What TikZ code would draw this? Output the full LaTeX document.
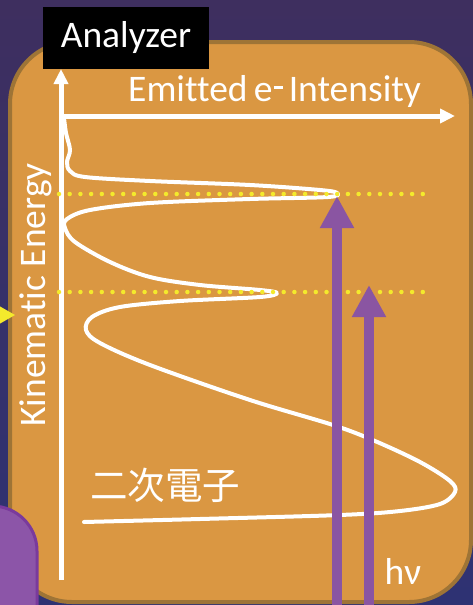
\documentclass[tikz,border=0pt]{standalone}
\usepackage{fontspec}
\setmainfont{Carlito}[Ligatures=CommonOff]
\newfontfamily\cjk{Noto Sans CJK JP}
\usetikzlibrary{arrows.meta}
\definecolor{bgtop}{HTML}{3E2F5F}
\definecolor{bgbot}{HTML}{2E3273}
\definecolor{panel}{HTML}{DA9742}
\definecolor{panelrim}{HTML}{9E7436}
\definecolor{tab}{HTML}{8C55A8}
\definecolor{tabrim}{HTML}{7A3A9C}
\definecolor{photon}{HTML}{8A55A2}
\definecolor{lvl}{HTML}{F4EA2C}
\tikzset{
  axis/.style={white, line width=5pt, -{Triangle[width=14pt,length=15pt]}},
  spectrum/.style={white, line width=4pt, line cap=round, line join=round},
  level/.style={lvl, line width=4.5pt, line cap=round, dash pattern=on 0pt off 10.7pt},
  beam/.style={photon, line width=10pt, -{Triangle[width=32pt,length=32pt]}},
  label/.style={text=white, inner sep=0pt, font=\fontsize{37.5}{42}\selectfont}
}
\begin{document}
\begin{tikzpicture}[x=1pt, y=-1pt]
  \useasboundingbox (0,0) rectangle (473,605);
  \clip (0,0) rectangle (473,605);
  % backdrop and panel
  \shade[top color=bgtop, bottom color=bgbot] (0,0) rectangle (473,605);
  \draw[panelrim, line width=4pt, fill=panel, rounded corners=62pt] (10,42) rectangle (471,602);
  \draw[tabrim, line width=3pt, fill=tab, rounded corners=45pt] (-60,506) rectangle (37,660);
  \fill[lvl] (-6,303) -- (15,315) -- (-6,327) -- cycle;
  % axes
  \coordinate (B) at (61,580); \coordinate (Y) at (61,69);
  \coordinate (O) at (61,116); \coordinate (X) at (455,116);
  \draw[axis] (B) -- (Y);
  \draw[axis] (O) -- (X);
  % spectrum
  \draw[spectrum] plot[smooth, tension=.55] coordinates {
    (64,118) (66,133) (70,150) (67,162) (70,171) (85,177) (150,181) (250,185)
    (320,190) (337,193) (328,197) (250,199) (150,203) (90,210) (67,219) (65,228)
    (75,242) (110,262) (150,277) (200,285) (260,290) (277,293) (260,297) (180,301)
    (120,307) (92,317) (86,330) (100,343) (150,365) (250,400) (333,425) (375,441)
    (420,462) (450,481) (455,492) (440,504) (400,511) (340,515) (200,519) (84,522)};
  \foreach \y in {194,292}
    \draw[level] (59,\y) -- (423,\y);
  % photons
  \foreach \x/\tip in {337/196,369/285}
    \draw[beam] (\x,615) -- (\x,\tip);
  % labels
  \node[label, fill=black, minimum width=166pt, minimum height=62pt] (an) at (126,38) {Analyzer};
  \node[label, anchor=base west] (ei) at (128,101) {Emitted\,e\kern1pt\rule[12.5pt]{9pt}{2.6pt}\,Intensity};
  \node[label, rotate=90, anchor=base] (ke) at (45,295) {Kinematic Energy};
  \node[label] (se) at (165,485) {\cjk 二次電子};
  \node[label] (hv) at (403,571) {hν};
\end{tikzpicture}
\end{document}
